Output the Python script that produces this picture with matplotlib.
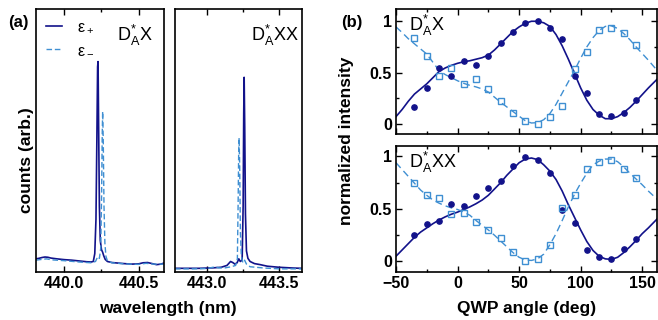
import matplotlib.pyplot as plt
import numpy as np

plt.rcParams['font.family'] = ['Liberation Sans', 'DejaVu Sans']
plt.rcParams['mathtext.fontset'] = 'custom'
plt.rcParams['mathtext.rm'] = 'Liberation Sans'

dark = '#12128a'
light = '#3f8fd2'

# (a) spectra, D*A X line
lam_x_plus = [439.81, 439.83, 439.85, 439.87, 439.89, 439.91, 439.95, 440.00, 440.05, 440.10,
              440.15, 440.18, 440.195, 440.205, 440.213, 440.219, 440.224, 440.227, 440.231, 440.236,
              440.242, 440.250, 440.258, 440.265, 440.275, 440.29, 440.32, 440.36, 440.40, 440.45,
              440.50, 440.53, 440.56, 440.59, 440.62, 440.65, 440.67]
cnt_x_plus = [0.050, 0.052, 0.055, 0.057, 0.056, 0.053, 0.050, 0.047, 0.045, 0.042,
              0.039, 0.038, 0.040, 0.070, 0.20, 0.50, 0.78, 0.80, 0.55, 0.25,
              0.12, 0.085, 0.075, 0.062, 0.048, 0.040, 0.036, 0.034, 0.032, 0.030,
              0.031, 0.035, 0.036, 0.032, 0.028, 0.030, 0.034]
lam_x_minus = [439.81, 439.85, 439.88, 439.92, 440.00, 440.10, 440.18, 440.21, 440.222, 440.228,
               440.236, 440.245, 440.251, 440.255, 440.258, 440.262, 440.267, 440.273, 440.28, 440.29,
               440.32, 440.40, 440.50, 440.55, 440.60, 440.67]
cnt_x_minus = [0.045, 0.048, 0.050, 0.046, 0.043, 0.038, 0.035, 0.040, 0.055, 0.058,
               0.052, 0.09, 0.30, 0.52, 0.61, 0.50, 0.25, 0.11, 0.06, 0.042,
               0.035, 0.031, 0.029, 0.033, 0.030, 0.030]

# (a) spectra, D*A XX line
lam_xx_plus = [442.78, 442.85, 442.95, 443.05, 443.10, 443.14, 443.165, 443.18, 443.195, 443.21,
               443.222, 443.232, 443.245, 443.252, 443.256, 443.259, 443.263, 443.268, 443.275, 443.285,
               443.30, 443.33, 443.37, 443.42, 443.50, 443.60, 443.66]
cnt_xx_plus = [0.014, 0.014, 0.014, 0.016, 0.018, 0.025, 0.040, 0.036, 0.030, 0.035,
               0.050, 0.040, 0.045, 0.25, 0.60, 0.74, 0.55, 0.22, 0.08, 0.052,
               0.040, 0.032, 0.028, 0.022, 0.018, 0.015, 0.014]
lam_xx_minus = [442.78, 442.90, 443.00, 443.06, 443.08, 443.12, 443.17, 443.20, 443.212, 443.217,
                443.221, 443.224, 443.228, 443.233, 443.24, 443.25, 443.262, 443.275, 443.30, 443.40,
                443.50, 443.66]
cnt_xx_minus = [0.012, 0.012, 0.013, 0.020, 0.016, 0.015, 0.020, 0.025, 0.05, 0.25,
                0.45, 0.51, 0.40, 0.15, 0.06, 0.035, 0.045, 0.030, 0.020, 0.015,
                0.012, 0.012]

# (b) polarization data
angle = [-35, -25, -15, -5, 5, 15, 25, 35, 45, 55, 65, 75, 85, 95, 105, 115, 125, 135, 145]
x_plus = [0.165, 0.345, 0.54, 0.465, 0.61, 0.57, 0.66, 0.79, 0.90, 0.98, 1.0, 0.935, 0.83,
          0.47, 0.30, 0.10, 0.075, 0.11, 0.235]
x_minus = [0.84, 0.66, 0.47, 0.54, 0.39, 0.435, 0.34, 0.22, 0.105, 0.026, 0.003, 0.07, 0.175,
           0.535, 0.70, 0.91, 0.935, 0.885, 0.77]
xx_plus = [0.25, 0.36, 0.39, 0.545, 0.53, 0.62, 0.70, 0.77, 0.91, 0.99, 0.97, 0.84, 0.49,
           0.37, 0.11, 0.04, 0.025, 0.115, 0.21]
xx_minus = [0.745, 0.635, 0.60, 0.45, 0.46, 0.38, 0.30, 0.22, 0.09, 0.003, 0.025, 0.16, 0.51,
            0.63, 0.885, 0.95, 0.97, 0.88, 0.79]

# (b) fit curves
fit_angle = [-50, -45, -40, -35, -30, -25, -20, -15, -10, -5, 0, 5, 10, 15, 20, 25, 30, 35, 40,
             45, 50, 55, 60, 65, 70, 75, 80, 85, 90, 95, 100, 105, 110, 115, 120, 125, 130, 135,
             140, 145, 150, 155, 160, 165]
fit_x_plus = [0.07, 0.14, 0.22, 0.29, 0.34, 0.39, 0.45, 0.51, 0.545, 0.57, 0.59, 0.605, 0.615,
              0.63, 0.645, 0.67, 0.72, 0.78, 0.84, 0.90, 0.945, 0.98, 1.0, 1.0, 0.985, 0.95, 0.87,
              0.76, 0.63, 0.49, 0.35, 0.23, 0.14, 0.085, 0.05, 0.05, 0.07, 0.11, 0.16, 0.22,
              0.285, 0.35, 0.41, 0.47]
fit_x_minus = [0.945, 0.89, 0.83, 0.78, 0.73, 0.68, 0.60, 0.52, 0.48, 0.45, 0.42, 0.395, 0.375,
               0.36, 0.34, 0.31, 0.26, 0.21, 0.165, 0.12, 0.075, 0.03, 0.008, 0.012, 0.04, 0.10,
               0.19, 0.30, 0.41, 0.52, 0.64, 0.75, 0.84, 0.91, 0.95, 0.955, 0.93, 0.88, 0.82,
               0.75, 0.685, 0.62, 0.55, 0.49]
fit_xx_plus = [0.05, 0.11, 0.17, 0.23, 0.28, 0.32, 0.36, 0.395, 0.425, 0.45, 0.47, 0.495, 0.52,
               0.55, 0.585, 0.63, 0.69, 0.75, 0.82, 0.88, 0.94, 0.975, 0.985, 0.97, 0.92, 0.86,
               0.78, 0.67, 0.54, 0.42, 0.30, 0.19, 0.105, 0.05, 0.025, 0.02, 0.04, 0.085, 0.14,
               0.20, 0.265, 0.32, 0.38, 0.44]
fit_xx_minus = [0.94, 0.875, 0.81, 0.745, 0.68, 0.63, 0.585, 0.555, 0.53, 0.51, 0.495, 0.47,
                0.44, 0.39, 0.345, 0.30, 0.25, 0.195, 0.14, 0.085, 0.04, 0.015, 0.01, 0.025, 0.07,
                0.16, 0.265, 0.39, 0.52, 0.64, 0.745, 0.84, 0.92, 0.955, 0.975, 0.975, 0.95,
                0.90, 0.84, 0.785, 0.73, 0.67, 0.615, 0.56]

fig = plt.figure(figsize=(6.58, 3.2), dpi=100)
ax1 = fig.add_axes([0.0547, 0.15, 0.1945, 0.822])
ax2 = fig.add_axes([0.266, 0.15, 0.193, 0.822])
ax3 = fig.add_axes([0.6018, 0.581, 0.3967, 0.391])
ax4 = fig.add_axes([0.6018, 0.15, 0.3967, 0.394])

label_tex = r'D$_\mathregular{A}^\mathregular{*}$'


def style_axes(ax):
    for s in ax.spines.values():
        s.set_linewidth(1.2)
    ax.tick_params(which='both', direction='in', top=True, right=True, width=1.0)
    ax.tick_params(which='major', length=4, labelsize=11.5, pad=3)
    ax.tick_params(which='minor', length=2.5)
    for t in ax.get_xticklabels() + ax.get_yticklabels():
        t.set_fontweight('bold')


# spectra
ax1.plot(lam_x_plus, cnt_x_plus, color=dark, lw=1.2, label='ε$_+$')
ax1.plot(lam_x_minus, cnt_x_minus, color=light, lw=1.0, ls=(0, (4, 2)), label='ε$_-$')
ax1.set_xlim(439.81, 440.67)
ax2.plot(lam_xx_plus, cnt_xx_plus, color=dark, lw=1.2)
ax2.plot(lam_xx_minus, cnt_xx_minus, color=light, lw=1.0, ls=(0, (4, 2)))
ax2.set_xlim(442.78, 443.66)
for ax in (ax1, ax2):
    ax.set_ylim(0, 1)
    ax.set_yticks([])
    ax.set_xticks(ax.get_xlim()[0] // 0.5 * 0.5 + np.array([0.5, 1.0]))
    ax.xaxis.set_minor_locator(plt.MultipleLocator(0.25))
    ax.xaxis.set_major_formatter(plt.FormatStrFormatter('%.1f'))
    style_axes(ax)
    ax.tick_params(which='both', left=False, right=False)

ax1.legend(loc='upper left', frameon=False, fontsize=11.5, handlelength=1.0,
           handletextpad=0.9, borderaxespad=0.25, labelspacing=0.45, bbox_to_anchor=(0.0, 1.0))
ax1.text(0.63, 0.9, label_tex + 'X', transform=ax1.transAxes, fontsize=13, va='center')
ax2.text(0.6, 0.9, label_tex + 'XX', transform=ax2.transAxes, fontsize=13, va='center')

# polarization
for ax, dp, dm, fp, fm, name in ((ax3, x_plus, x_minus, fit_x_plus, fit_x_minus, 'X'),
                                  (ax4, xx_plus, xx_minus, fit_xx_plus, fit_xx_minus, 'XX')):
    ax.plot(fit_angle, fp, color=dark, lw=1.2)
    ax.plot(fit_angle, fm, color=light, lw=1.0, ls=(0, (5, 3)))
    ax.plot(angle, dp, 'o', color=dark, ms=3.8, mec=dark)
    ax.plot(angle, dm, 's', mfc='none', mec=light, ms=5, mew=1.0)
    ax.set_xlim(-50, 162)
    ax.set_yticks([0, 0.5, 1])
    ax.set_yticklabels(['0', '0.5', '1'])
    ax.yaxis.set_minor_locator(plt.MultipleLocator(0.25))
    ax.set_xticks([-50, 0, 50, 100, 150])
    ax.xaxis.set_minor_locator(plt.MultipleLocator(25))
    style_axes(ax)
    ax.text(0.05, 0.87, label_tex + name, transform=ax.transAxes, fontsize=13, va='center')
ax3.set_ylim(-0.1, 1.12)
ax4.set_ylim(-0.1, 1.1)
ax3.tick_params(labelbottom=False)
ax4.set_xticklabels(['\u221250', '0', '50', '100', '150'])
for t in ax4.get_xticklabels():
    t.set_fontweight('bold')

fig.text(0.041, 0.5, 'counts (arb.)', rotation=90, fontsize=12.5, fontweight='bold',
         ha='center', va='center')
fig.text(0.255, 0.037, 'wavelength (nm)', fontsize=12.5, fontweight='bold', ha='center', va='center')
fig.text(0.527, 0.56, 'normalized intensity', rotation=90, fontsize=12.5, fontweight='bold',
         ha='center', va='center')
fig.text(0.8, 0.037, 'QWP angle (deg)', fontsize=12.5, fontweight='bold', ha='center', va='center')
fig.text(0.012, 0.93, '(a)', fontsize=12, fontweight='bold', va='center')
fig.text(0.518, 0.93, '(b)', fontsize=12, fontweight='bold', va='center')

fig.savefig('out.png', dpi=100)
